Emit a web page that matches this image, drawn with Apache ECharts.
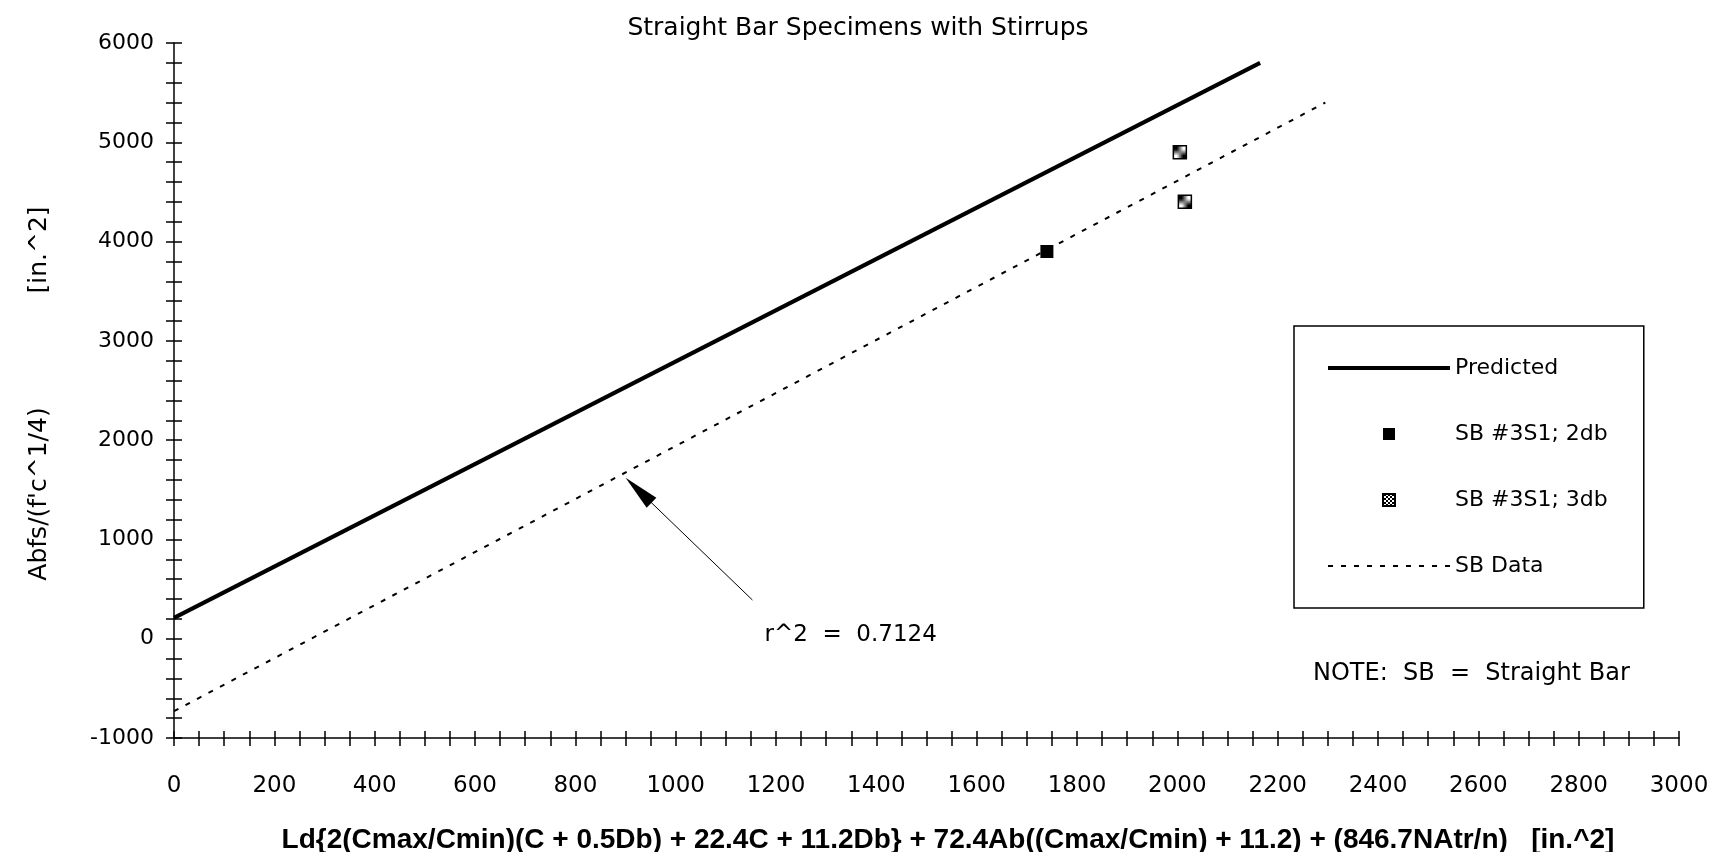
<!DOCTYPE html>
<html>
<head>
<meta charset="utf-8">
<title>Straight Bar Specimens with Stirrups</title>
<script src="https://cdn.jsdelivr.net/npm/echarts@6/dist/echarts.min.js"></script>
<style>
  html, body { margin: 0; padding: 0; background: #fff; }
  #main { width: 1716px; height: 852px; }
</style>
</head>
<body>
<div id="main"></div>
<script>
// 数据
const predictedLine = [[0, 210], [2165, 5800]];
const sbDataLine = [[0, -730], [2295, 5400]];
const sb2db = [[1740, 3900]];
const sb3db = [[2005, 4900], [2015, 4400]];
const seriesNames = ['Predicted', 'SB #3S1; 2db', 'SB #3S1; 3db', 'SB Data'];
const xTickLabels = [0, 200, 400, 600, 800, 1000, 1200, 1400, 1600, 1800, 2000, 2200, 2400, 2600, 2800, 3000];
const yTickLabels = [-1000, 0, 1000, 2000, 3000, 4000, 5000, 6000];
const r2Text = 'r^2  =  0.7124';
const r2At = [1177, 35];
const arrowFrom = [1153, 390];
const arrowTo = [926, 1495];

let container = document.getElementById('main');
var myChart = echarts.init(container);

// 网点填充（3db 的方块）
const pat = document.createElement('canvas');
pat.width = 4; pat.height = 4;
const pctx = pat.getContext('2d');
pctx.fillStyle = '#fff'; pctx.fillRect(0, 0, 4, 4);
pctx.fillStyle = '#000'; pctx.fillRect(0, 0, 2, 2); pctx.fillRect(2, 2, 2, 2);

const FONT = 'DejaVu Sans';
const SQUARE = 'path://M0,0L10,0L10,10L0,10Z';

myChart.setOption({
  animation: false,
  backgroundColor: '#fff',
  textStyle: { fontFamily: FONT, color: '#000' },
  title: [
    {
      text: 'Straight Bar Specimens with Stirrups',
      left: 'center',
      top: 11,
      textStyle: { fontSize: 25, fontWeight: 'normal', color: '#000', fontFamily: FONT }
    },
    {
      text: 'NOTE:  SB  =  Straight Bar',
      left: 1308,
      top: 657,
      textStyle: { fontSize: 24, fontWeight: 'normal', color: '#000', fontFamily: FONT }
    }
  ],
  grid: { left: 174, right: 37, top: 43, bottom: 114, outerBoundsMode: 'none', containLabel: false },
  legend: {
    data: [
      { name: seriesNames[0], itemStyle: { opacity: 0 }, lineStyle: { width: 4 } },
      { name: seriesNames[1], icon: SQUARE },
      { name: seriesNames[2], icon: SQUARE },
      { name: seriesNames[3], itemStyle: { opacity: 0 }, lineStyle: { width: 2 } }
    ],
    orient: 'vertical',
    left: 1294,
    top: 326,
    padding: [30, 36, 30, 32],
    itemGap: 42,
    itemWidth: 122,
    itemHeight: 12,
    borderColor: '#000',
    borderWidth: 1.5,
    textStyle: { fontSize: 22, lineHeight: 24, color: '#000', fontFamily: FONT }
  },
  xAxis: [
    {
      type: 'value',
      min: 0,
      max: 3000,
      interval: 50,
      axisLine: { onZero: false, lineStyle: { color: '#000', width: 1.5 } },
      axisTick: { length: 8, lineStyle: { color: '#000', width: 1.5 } },
      axisLabel: {
        formatter: v => (xTickLabels.includes(v) ? String(v) : ''),
        fontSize: 23,
        color: '#000',
        margin: 37
      },
      splitLine: { show: false }
    },
    {
      type: 'value',
      min: 0,
      max: 3000,
      interval: 50,
      position: 'bottom',
      axisLine: { show: false, onZero: false },
      axisTick: { inside: true, length: 7, lineStyle: { color: '#000', width: 1.5 } },
      axisLabel: { show: false },
      splitLine: { show: false }
    }
  ],
  yAxis: [
    {
      type: 'value',
      min: -1000,
      max: 6000,
      interval: 200,
      axisLine: { show: true, lineStyle: { color: '#000', width: 1.5 } },
      axisTick: { show: true, length: 8, lineStyle: { color: '#000', width: 1.5 } },
      axisLabel: {
        formatter: v => (yTickLabels.includes(v) ? String(v) : ''),
        fontSize: 22,
        color: '#000',
        margin: 20
      },
      splitLine: { show: false }
    },
    {
      type: 'value',
      min: -1000,
      max: 6000,
      interval: 200,
      position: 'left',
      axisLine: { show: false },
      axisTick: { show: true, inside: true, length: 8, lineStyle: { color: '#000', width: 1.5 } },
      axisLabel: { show: false },
      splitLine: { show: false }
    }
  ],
  graphic: [
    {
      // y 轴标题（两段）
      type: 'text',
      x: 39,
      y: 494,
      rotation: Math.PI / 2,
      style: { text: "Abfs/(f'c^1/4)", font: '25px "DejaVu Sans"', fill: '#000', align: 'center', verticalAlign: 'middle' }
    },
    {
      type: 'text',
      x: 39,
      y: 250,
      rotation: Math.PI / 2,
      style: { text: '[in.^2]', font: '25px "DejaVu Sans"', fill: '#000', align: 'center', verticalAlign: 'middle' }
    },
    {
      // x 轴标题
      type: 'text',
      x: 948,
      y: 840,
      style: {
        text: 'Ld{2(Cmax/Cmin)(C + 0.5Db) + 22.4C + 11.2Db} + 72.4Ab((Cmax/Cmin) + 11.2) + (846.7NAtr/n)   [in.^2]',
        font: 'bold 28px "Liberation Sans"',
        fill: '#000',
        align: 'center',
        verticalAlign: 'middle'
      }
    }
  ],
  series: [
    {
      name: seriesNames[0],
      type: 'line',
      data: predictedLine,
      symbol: 'none',
      lineStyle: { color: '#000', width: 4 },
      itemStyle: { color: '#000' }
    },
    {
      name: seriesNames[1],
      type: 'scatter',
      data: sb2db,
      symbol: 'rect',
      symbolSize: 13,
      itemStyle: { color: '#000', opacity: 1 }
    },
    {
      name: seriesNames[2],
      type: 'scatter',
      data: sb3db,
      symbol: 'rect',
      symbolSize: 13,
      itemStyle: { color: { image: pat, repeat: 'repeat' }, borderColor: '#000', borderWidth: 1.5, opacity: 1 }
    },
    {
      name: seriesNames[3],
      type: 'line',
      data: sbDataLine,
      symbol: 'none',
      lineStyle: { color: '#000', width: 2, type: [5, 8] },
      itemStyle: { color: '#000' },
      markLine: {
        silent: true,
        animation: false,
        symbol: ['none', 'triangle'],
        symbolSize: [14, 36],
        lineStyle: { color: '#000', width: 1, type: 'solid' },
        label: { show: false },
        data: [[{ coord: arrowFrom }, { coord: arrowTo }]]
      },
      markPoint: {
        silent: true,
        animation: false,
        symbol: 'circle',
        symbolSize: 0,
        label: { show: true, position: 'right', distance: 0, formatter: r2Text, color: '#000', fontSize: 23, fontFamily: FONT },
        data: [{ coord: r2At }]
      }
    }
  ]
});

//让图表随浏览器大小变换而变换
let resizeObserver = new ResizeObserver(() => myChart?.resize());
resizeObserver.observe(container);
</script>
</body>
</html>
